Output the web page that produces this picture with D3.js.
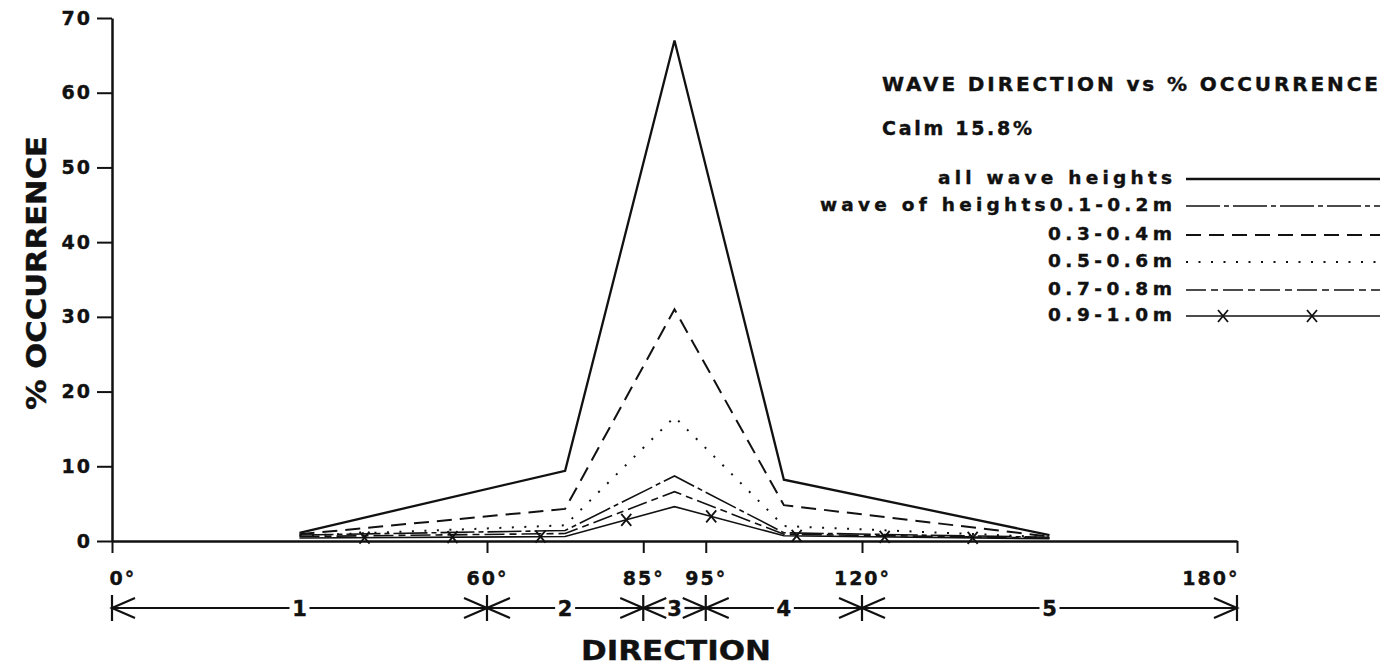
<!DOCTYPE html>
<html>
<head>
<meta charset="utf-8">
<script src="https://cdn.jsdelivr.net/npm/d3@7"></script>
<style>
    body { margin: 0; background: #fff; }
    text { font-family: 'DejaVu Sans', 'Liberation Sans', Arial, sans-serif; font-weight: bold; fill: #111; stroke: #111; stroke-width: 0.4px; }
</style>
</head>
<body>
<svg class="chart" width="1397" height="667"></svg>
<script>
// sector centre directions (degrees) and % occurrence per wave height class
var directions = [30, 72.5, 90, 107.5, 150];
var allHeights = [1.1, 9.4, 67.0, 8.2, 0.8];
var h01to02 = [0.8, 1.4, 8.7, 1.1, 0.5];
var h03to04 = [0.9, 4.3, 31.0, 4.8, 0.6];
var h05to06 = [0.7, 2.1, 16.6, 2.0, 0.5];
var h07to08 = [0.6, 1.0, 6.6, 0.9, 0.4];
var h09to10 = [0.4, 0.6, 4.6, 0.7, 0.3];

var seriesNames = ['all wave heights', 'wave of heights0.1-0.2m', '0.3-0.4m', '0.5-0.6m', '0.7-0.8m', '0.9-1.0m'];
var yTicks = [0, 10, 20, 30, 40, 50, 60, 70];
var xTicks = [0, 60, 85, 95, 120, 180];
var sectorBounds = [0, 60, 85, 95, 120, 180];
var sectorNames = ['1', '2', '3', '4', '5'];
var title = 'WAVE DIRECTION vs % OCCURRENCE';
var calmText = 'Calm 15.8%';

(function() {
    var p = {};
        p.ink = '#111';
        p.x0 = 112; p.x1 = 1237;
        p.y0 = 541; p.y1 = 18;
        p.sectorY = 608;
        p.styles = [
            {dash: null, width: 2.3},
            {dash: '34,4,5,4', width: 1.6},
            {dash: '15,8', width: 2},
            {dash: '2,10.5', width: 2},
            {dash: '20,5,7,5', width: 1.6},
            {dash: null, width: 1.6, markers: true}
        ];
        p.legend = {
            textRight: 1172,
            textLeft: [938, 820, 1048, 1048, 1048, 1048],
            rowY: [177, 204, 233, 260, 288, 314],
            lineX0: 1186, lineX1: 1380,
            fontSize: 18.5
        };

    var svg = d3.select('.chart');
    svg.append('rect').attr('width', 1397).attr('height', 667).attr('fill', '#fff');

    var x = d3.scaleLinear().domain([0, 180]).range([p.x0, p.x1]);
    var y = d3.scaleLinear().domain([0, 70]).range([p.y0, p.y1]);

    //-----  Y Axis  -----//
    var yAxis = svg.append('g')
        .attr('class', 'yaxis')
        .attr('transform', 'translate(' + p.x0 + ',0)')
        .call(d3.axisLeft(y).tickValues(yTicks).tickSizeInner(15).tickSizeOuter(0).tickPadding(5));
    yAxis.select('.domain').attr('stroke', p.ink).attr('stroke-width', 2.5);
    yAxis.selectAll('.tick line').attr('stroke', p.ink).attr('stroke-width', 2);
    yAxis.selectAll('.tick text')
        .attr('font-size', 19)
        .attr('letter-spacing', 2)
        .attr('fill', p.ink)
        .attr('font-family', null);

    //-----  X Axis  -----//
    var xAxis = svg.append('g')
        .attr('class', 'xaxis')
        .attr('transform', 'translate(0,' + p.y0 + ')')
        .call(d3.axisBottom(x).tickValues(xTicks).tickSizeInner(12).tickSizeOuter(0).tickPadding(19)
            .tickFormat(function(d) { return d + '°'; }));
    xAxis.select('.domain').attr('stroke', p.ink).attr('stroke-width', 2.5);
    xAxis.selectAll('.tick line').attr('stroke', p.ink).attr('stroke-width', 2);
    xAxis.selectAll('.tick text')
        .attr('font-size', 19)
        .attr('letter-spacing', 2)
        .attr('fill', p.ink)
        .attr('font-family', null)
        .attr('text-anchor', function(d) { return d === 0 ? 'start' : (d === 180 ? 'end' : 'middle'); })
        .attr('dx', function(d) { return d === 0 ? -3 : (d === 180 ? 2 : 0); });

    //-----  Axis titles  -----//
    svg.append('text')
        .text('% OCCURRENCE')
        .attr('transform', 'translate(46,410) rotate(-90)')
        .attr('font-size', 26)
        .attr('textLength', 274)
        .attr('lengthAdjust', 'spacingAndGlyphs');
    svg.append('text')
        .text('DIRECTION')
        .attr('x', 581).attr('y', 660)
        .attr('font-size', 27)
        .attr('textLength', 190)
        .attr('lengthAdjust', 'spacingAndGlyphs');

    //-----  Sector arrows  -----//
    var sec = svg.append('g').attr('class', 'sectors')
        .attr('stroke', p.ink).attr('stroke-width', 2.2).attr('fill', 'none');
    var ah = 23, av = 10;
    for (var i = 0; i < sectorNames.length; i++) {
        var a = x(sectorBounds[i]), b = x(sectorBounds[i + 1]), c = (a + b) / 2;
        sec.append('line').attr('x1', a).attr('x2', c - 10).attr('y1', p.sectorY).attr('y2', p.sectorY);
        sec.append('line').attr('x1', c + 10).attr('x2', b).attr('y1', p.sectorY).attr('y2', p.sectorY);
        sec.append('path').attr('d', 'M' + (a + ah) + ',' + (p.sectorY - av) + 'L' + a + ',' + p.sectorY + 'L' + (a + ah) + ',' + (p.sectorY + av));
        sec.append('path').attr('d', 'M' + (b - ah) + ',' + (p.sectorY - av) + 'L' + b + ',' + p.sectorY + 'L' + (b - ah) + ',' + (p.sectorY + av));
        svg.append('text')
            .text(sectorNames[i])
            .attr('x', c).attr('y', p.sectorY + 8)
            .attr('text-anchor', 'middle')
            .attr('font-size', 21);
    }
    sectorBounds.forEach(function(d) {
        sec.append('line').attr('x1', x(d)).attr('x2', x(d)).attr('y1', p.sectorY - 13).attr('y2', p.sectorY + 13);
    });

    //-----  Series lines  -----//
    var series = [allHeights, h01to02, h03to04, h05to06, h07to08, h09to10];
    var line = d3.line()
        .x(function(d, i) { return x(directions[i]); })
        .y(function(d) { return y(d); });

    var crossAt = function(g, pathNode, offset, step) {
        var len = pathNode.getTotalLength();
        for (var d = offset; d < len; d += step) {
            var pt = pathNode.getPointAtLength(d);
            g.append('path')
                .attr('d', 'M' + (pt.x - 5) + ',' + (pt.y - 6) + 'L' + (pt.x + 5) + ',' + (pt.y + 6) +
                           'M' + (pt.x - 5) + ',' + (pt.y + 6) + 'L' + (pt.x + 5) + ',' + (pt.y - 6))
                .attr('stroke', p.ink).attr('stroke-width', 1.8).attr('fill', 'none');
        }
    };

    var lines = svg.append('g').attr('class', 'lines');
    series.slice().reverse().forEach(function(s, r) {
        var k = series.length - 1 - r;
        var st = p.styles[k];
        var path = lines.append('path')
            .datum(s)
            .attr('d', line)
            .attr('fill', 'none')
            .attr('stroke', p.ink)
            .attr('stroke-width', st.width)
            .attr('stroke-dasharray', st.dash);
        if (st.markers) crossAt(lines, path.node(), 65, 88);
    });

    //-----  Title & legend  -----//
    svg.append('text')
        .text(title)
        .attr('x', 882).attr('y', 91)
        .attr('font-size', 20)
        .attr('textLength', 496)
        .attr('lengthAdjust', 'spacing');
    svg.append('text')
        .text(calmText)
        .attr('x', 882).attr('y', 135)
        .attr('font-size', 19)
        .attr('textLength', 150)
        .attr('lengthAdjust', 'spacing');

    var legend = svg.append('g').attr('class', 'legend');
    for (var n = 0; n < seriesNames.length; n++) {
        var ly = p.legend.rowY[n];
        legend.append('text')
            .text(seriesNames[n])
            .attr('x', p.legend.textLeft[n]).attr('y', ly + 7)
            .attr('font-size', p.legend.fontSize)
            .attr('textLength', p.legend.textRight - p.legend.textLeft[n])
            .attr('lengthAdjust', 'spacing');
        var lp = legend.append('path')
            .attr('d', 'M' + p.legend.lineX0 + ',' + (ly + 2) + 'L' + p.legend.lineX1 + ',' + (ly + 2))
            .attr('fill', 'none')
            .attr('stroke', p.ink)
            .attr('stroke-width', p.styles[n].width)
            .attr('stroke-dasharray', p.styles[n].dash);
        if (p.styles[n].markers) crossAt(legend, lp.node(), 37, 89);
    }
})();
</script>
</body>
</html>
